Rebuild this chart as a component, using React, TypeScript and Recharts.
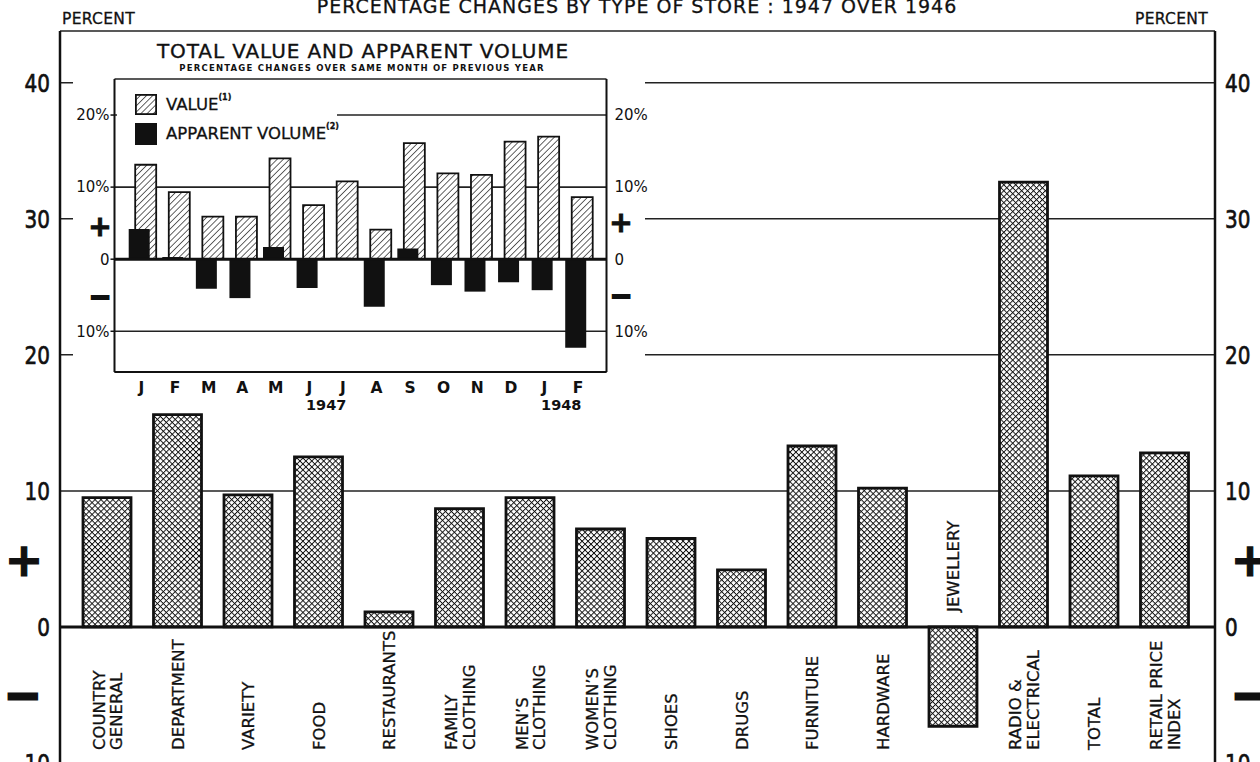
import React from "react";
import { BarChart, Bar, XAxis, YAxis, CartesianGrid, ReferenceLine } from "recharts";

// main chart: percentage change 1947 over 1946 by type of store
const STORE_TYPES = [
  "COUNTRY GENERAL",
  "DEPARTMENT",
  "VARIETY",
  "FOOD",
  "RESTAURANTS",
  "FAMILY CLOTHING",
  "MEN'S CLOTHING",
  "WOMEN'S CLOTHING",
  "SHOES",
  "DRUGS",
  "FURNITURE",
  "HARDWARE",
  "JEWELLERY",
  "RADIO & ELECTRICAL",
  "TOTAL",
  "RETAIL PRICE INDEX",
];
const STORE_LABEL_LINES = [
  ["COUNTRY", "GENERAL"],
  ["DEPARTMENT"],
  ["VARIETY"],
  ["FOOD"],
  ["RESTAURANTS"],
  ["FAMILY", "CLOTHING"],
  ["MEN’S", "CLOTHING"],
  ["WOMEN’S", "CLOTHING"],
  ["SHOES"],
  ["DRUGS"],
  ["FURNITURE"],
  ["HARDWARE"],
  ["JEWELLERY"],
  ["RADIO &", "ELECTRICAL"],
  ["TOTAL"],
  ["RETAIL PRICE", "INDEX"],
];
const STORE_CHANGE = [9.5, 15.6, 9.7, 12.5, 1.1, 8.7, 9.5, 7.2, 6.5, 4.2, 13.3, 10.2, -7.3, 32.7, 11.1, 12.8];
const MAIN_TICKS = [-10, 0, 10, 20, 30, 40];
const MAIN_DOMAIN = [-10, 43.8];

// inset: total value and apparent volume, change over same month of previous year
const MONTHS = ["J", "F", "M", "A", "M", "J", "J", "A", "S", "O", "N", "D", "J", "F"];
const YEAR_LABELS = ["", "", "", "", "", "", "1947", "", "", "", "", "", "", "1948"];
const VALUE_CHANGE = [13.1, 9.3, 5.9, 5.9, 14.0, 7.5, 10.8, 4.1, 16.1, 11.9, 11.7, 16.3, 17.0, 8.6];
const VOLUME_CHANGE = [4.2, 0.3, -4.1, -5.4, 1.7, -4.0, 0.2, -6.6, 1.5, -3.6, -4.5, -3.2, -4.3, -12.3];
const INSET_TICKS = [-10, 0, 10, 20];
const INSET_DOMAIN = [-15.65, 25];

const FONT = "'DejaVu Sans', 'Noto Sans', sans-serif";

const MAIN_H = 780;
const MAIN_MARGIN = { top: 31, right: 0, bottom: 0, left: 0 };
const MAIN_XAXIS_H = 17;
const MAIN_PLOT_H = MAIN_H - MAIN_MARGIN.top - MAIN_MARGIN.bottom - MAIN_XAXIS_H;
const INSET_BAND = 33.54;

const storeData = STORE_TYPES.map((store, i) => ({ store, change: STORE_CHANGE[i] }));
const insetData = MONTHS.map((m, i) => ({
  id: String(i),
  month: m,
  value: VALUE_CHANGE[i],
  volume: VOLUME_CHANGE[i],
}));

function StoreTick(props: any) {
  const { x, y, payload } = props;
  const i = STORE_TYPES.indexOf(payload.value);
  const lines = STORE_LABEL_LINES[i] || [payload.value];
  const zeroY = y - ((0 - MAIN_DOMAIN[0]) / (MAIN_DOMAIN[1] - MAIN_DOMAIN[0])) * MAIN_PLOT_H;
  const startY = STORE_CHANGE[i] < 0 ? zeroY - 15 : y - 13;
  const step = 17.5;
  const first = -((lines.length - 1) * step) / 2;
  return (
    <text
      x={x}
      y={startY}
      transform={`rotate(-90 ${x} ${startY})`}
      fontFamily={FONT}
      fontSize={16.5}
      fill="#111"
      stroke="#111"
      strokeWidth={0.3}
    >
      {lines.map((line, k) => (
        <tspan key={k} x={x} y={startY + first + k * step + 6}>
          {line}
        </tspan>
      ))}
    </text>
  );
}

function MainYTick(props: any) {
  const { x, y, payload, textAnchor } = props;
  return (
    <text
      x={0}
      y={0}
      dy="0.36em"
      transform={`translate(${x},${y}) scale(0.8,1)`}
      textAnchor={textAnchor}
      fontFamily={FONT}
      fontSize={25}
      fill="#111"
      stroke="#111"
      strokeWidth={0.7}
    >
      {Math.abs(payload.value)}
    </text>
  );
}

function MonthTick(props: any) {
  const { x, y, payload } = props;
  const i = Number(payload.value);
  return (
    <g fontFamily={FONT} fontWeight="bold" fill="#111">
      <text x={x - 4.5} y={y + 21} textAnchor="middle" fontSize={15.5}>
        {MONTHS[i]}
      </text>
      {YEAR_LABELS[i] ? (
        <text x={x - 4.5 - INSET_BAND / 2} y={y + 38} textAnchor="middle" fontSize={14.5}>
          {YEAR_LABELS[i]}
        </text>
      ) : null}
    </g>
  );
}

function MainChart() {
  return (
    <BarChart width={1260} height={MAIN_H} data={storeData} margin={MAIN_MARGIN}>
      <defs>
        <pattern
          id="crossHatch"
          width={4.2}
          height={4.2}
          patternUnits="userSpaceOnUse"
          patternTransform="rotate(45)"
        >
          <rect width={4.2} height={4.2} fill="#fff" />
          <line x1={0} y1={0} x2={0} y2={4.2} stroke="#111" strokeWidth={1.9} />
          <line x1={0} y1={0} x2={4.2} y2={0} stroke="#111" strokeWidth={1.9} />
        </pattern>
      </defs>
      <CartesianGrid vertical={false} stroke="#222" strokeWidth={1.5} />
      <XAxis
        dataKey="store"
        height={MAIN_XAXIS_H}
        padding={{ left: 12, right: 15 }}
        axisLine={false}
        tickLine={false}
        tickSize={0}
        tickMargin={0}
        interval={0}
        tick={(p: any) => <StoreTick {...p} />}
      />
      <XAxis
        xAxisId="top"
        dataKey="store"
        orientation="top"
        height={0}
        tick={false}
        tickLine={false}
        axisLine={{ stroke: "#111", strokeWidth: 2 }}
      />
      <YAxis
        domain={MAIN_DOMAIN}
        ticks={MAIN_TICKS}
        width={60}
        allowDataOverflow
        tickLine={false}
        tickMargin={4}
        axisLine={{ stroke: "#111", strokeWidth: 2.5 }}
        tick={(p: any) => <MainYTick {...p} />}
      />
      <YAxis
        yAxisId="right"
        orientation="right"
        domain={MAIN_DOMAIN}
        ticks={MAIN_TICKS}
        width={45}
        allowDataOverflow
        tickLine={false}
        tickMargin={4}
        axisLine={{ stroke: "#111", strokeWidth: 2.5 }}
        tick={(p: any) => <MainYTick {...p} />}
      />
      <Bar
        dataKey="change"
        fill="url(#crossHatch)"
        stroke="#111"
        strokeWidth={2.8}
        barSize={48}
        isAnimationActive={false}
      />
      <ReferenceLine y={0} stroke="#111" strokeWidth={3} />
    </BarChart>
  );
}

function InsetChart() {
  const tickStyle = { fill: "#111", fontSize: 15, fontFamily: FONT };
  const fmt = (v: number) => (v === 0 ? "0" : `${Math.abs(v)}%`);
  return (
    <BarChart width={572} height={380} data={insetData} margin={{ top: 46, right: 0, bottom: 0, left: 0 }}>
      <defs>
        <pattern
          id="diagHatch"
          width={4.4}
          height={4.4}
          patternUnits="userSpaceOnUse"
          patternTransform="rotate(45)"
        >
          <rect width={4.4} height={4.4} fill="#fff" />
          <line x1={0} y1={0} x2={0} y2={4.4} stroke="#111" strokeWidth={1.3} />
        </pattern>
      </defs>
      <CartesianGrid xAxisId="value" vertical={false} stroke="#222" strokeWidth={1.6} />
      <XAxis
        xAxisId="value"
        dataKey="id"
        height={41}
        padding={{ left: 14.7, right: 7.2 }}
        tickLine={false}
        tickSize={0}
        tickMargin={0}
        interval={0}
        axisLine={{ stroke: "#111", strokeWidth: 2 }}
        tick={(p: any) => <MonthTick {...p} />}
      />
      <XAxis xAxisId="volume" dataKey="id" hide padding={{ left: 8.2, right: 13.7 }} />
      <XAxis
        xAxisId="top"
        dataKey="id"
        orientation="top"
        height={0}
        tick={false}
        tickLine={false}
        axisLine={{ stroke: "#111", strokeWidth: 2 }}
      />
      <YAxis
        domain={INSET_DOMAIN}
        ticks={INSET_TICKS}
        width={41.5}
        allowDataOverflow
        tickSize={4}
        tickMargin={1}
        tickLine={{ stroke: "#111", strokeWidth: 1.5 }}
        axisLine={{ stroke: "#111", strokeWidth: 2 }}
        tick={tickStyle}
        tickFormatter={fmt}
      />
      <YAxis
        yAxisId="right"
        orientation="right"
        domain={INSET_DOMAIN}
        ticks={INSET_TICKS}
        width={38.5}
        allowDataOverflow
        tickLine={false}
        tickMargin={2}
        axisLine={{ stroke: "#111", strokeWidth: 2 }}
        tick={tickStyle}
        tickFormatter={fmt}
      />
      <Bar
        xAxisId="value"
        dataKey="value"
        fill="url(#diagHatch)"
        stroke="#111"
        strokeWidth={1.8}
        barSize={21}
        isAnimationActive={false}
      />
      <Bar xAxisId="volume" dataKey="volume" fill="#111" barSize={21} isAnimationActive={false} />
      <ReferenceLine xAxisId="value" y={0} stroke="#111" strokeWidth={3} />
    </BarChart>
  );
}

function Sign({ ch, x, y, size, weight }: { ch: string; x: number; y: number; size: number; weight: number }) {
  return (
    <span
      style={{
        position: "absolute",
        left: x,
        top: y,
        fontFamily: FONT,
        fontWeight: 900,
        fontSize: size,
        lineHeight: 1,
        color: "#111",
        WebkitTextStroke: `${weight}px #111`,
        transform: "translate(-50%, -50%)",
      }}
    >
      {ch}
    </span>
  );
}

const SUP = { fontSize: 8, fontWeight: "bold" as const, verticalAlign: 0, position: "relative" as const, top: -10 };

function InsetLegend() {
  return (
    <div
      style={{
        position: "absolute",
        left: 44,
        top: 50,
        width: 220,
        height: 66,
        background: "#fff",
        fontFamily: FONT,
        color: "#111",
        WebkitTextStroke: "0.3px #111",
      }}
    >
      <svg width={22} height={21} style={{ position: "absolute", left: 18, top: 11 }}>
        <defs>
          <pattern
            id="legendHatch"
            width={4.4}
            height={4.4}
            patternUnits="userSpaceOnUse"
            patternTransform="rotate(45)"
          >
            <rect width={4.4} height={4.4} fill="#fff" />
            <line x1={0} y1={0} x2={0} y2={4.4} stroke="#111" strokeWidth={1.3} />
          </pattern>
        </defs>
        <rect x={0.9} y={0.9} width={20.2} height={19.2} fill="url(#legendHatch)" stroke="#111" strokeWidth={1.8} />
      </svg>
      <span style={{ position: "absolute", left: 49, top: 14, fontSize: 16.5, lineHeight: "16.5px", whiteSpace: "nowrap" }}>
        VALUE<sup style={SUP}>(1)</sup>
      </span>
      <div style={{ position: "absolute", left: 18, top: 40, width: 22, height: 22, background: "#111" }} />
      <span style={{ position: "absolute", left: 49, top: 43, fontSize: 16.5, lineHeight: "16.5px", whiteSpace: "nowrap" }}>
        APPARENT VOLUME<sup style={SUP}>(2)</sup>
      </span>
    </div>
  );
}

export default function App() {
  return (
    <div
      style={{
        position: "fixed",
        left: 0,
        top: 0,
        width: 1260,
        height: 762,
        overflow: "hidden",
        background: "#fff",
        fontFamily: FONT,
        color: "#111",
      }}
    >
      <style>{".inset-box .recharts-surface{overflow:visible}"}</style>
      <MainChart />
      <div
        style={{
          position: "absolute",
          left: 0,
          top: -3,
          width: 1274,
          textAlign: "center",
          fontSize: 19,
          letterSpacing: 1,
          lineHeight: "19px",
          whiteSpace: "nowrap",
          WebkitTextStroke: "0.3px #111",
        }}
      >
        PERCENTAGE CHANGES BY TYPE OF STORE : 1947 OVER 1946
      </div>
      <div style={{ position: "absolute", left: 62, top: 12, fontSize: 15.5, letterSpacing: 0.3, lineHeight: "15px", WebkitTextStroke: "0.3px #111" }}>
        PERCENT
      </div>
      <div style={{ position: "absolute", left: 1135, top: 12, fontSize: 15.5, letterSpacing: 0.3, lineHeight: "15px", WebkitTextStroke: "0.3px #111" }}>
        PERCENT
      </div>
      <Sign ch="+" x={24} y={560} size={46} weight={1.2} />
      <Sign ch="−" x={23} y={695} size={44} weight={3} />
      <Sign ch="+" x={1250} y={560} size={46} weight={1.2} />
      <Sign ch="−" x={1250} y={695} size={44} weight={3} />

      <div
        className="inset-box"
        style={{
          position: "absolute",
          left: 73,
          top: 33,
          width: 572,
          height: 380,
          background: "#fff",
        }}
      >
        <InsetChart />
        <div
          style={{
            position: "absolute",
            left: 4,
            top: 8,
            width: 572,
            textAlign: "center",
            fontSize: 20,
            lineHeight: "20px",
            letterSpacing: 0.9,
            whiteSpace: "nowrap",
            WebkitTextStroke: "0.35px #111",
          }}
        >
          TOTAL VALUE AND APPARENT VOLUME
        </div>
        <div
          style={{
            position: "absolute",
            left: 3,
            top: 31,
            width: 572,
            textAlign: "center",
            fontSize: 8.5,
            fontWeight: "bold",
            lineHeight: "8.5px",
            letterSpacing: 1.2,
            whiteSpace: "nowrap",
          }}
        >
          PERCENTAGE CHANGES OVER SAME MONTH OF PREVIOUS YEAR
        </div>
        <InsetLegend />
        <Sign ch="+" x={27} y={194} size={28} weight={1} />
        <Sign ch="−" x={27} y={263} size={27} weight={1.8} />
        <Sign ch="+" x={548} y={190} size={28} weight={1} />
        <Sign ch="−" x={548} y={262} size={27} weight={1.8} />
      </div>
    </div>
  );
}
